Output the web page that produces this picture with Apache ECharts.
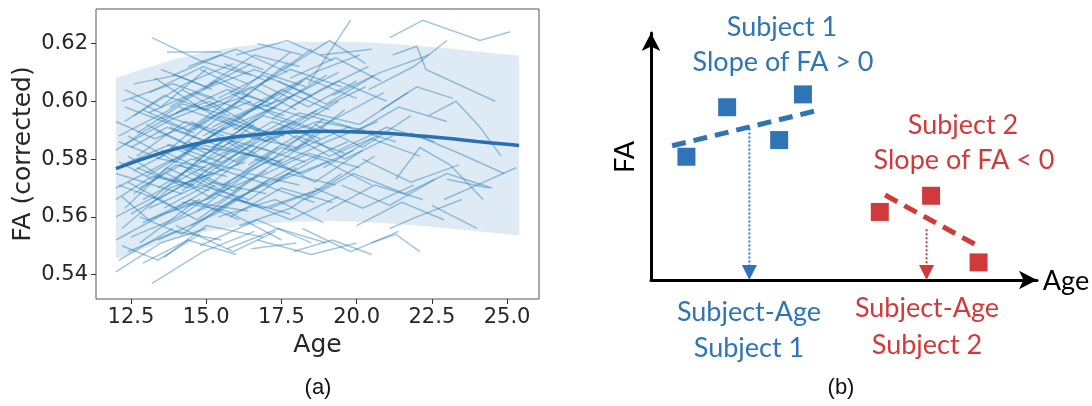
<!DOCTYPE html>
<html>
<head>
<meta charset="utf-8">
<script src="https://cdn.jsdelivr.net/npm/echarts@6/dist/echarts.min.js"></script>
<style>
  html, body { margin: 0; background: #fff; }
  #chart { width: 1092px; height: 406px; }
</style>
</head>
<body>
<div id="chart"></div>
<script>
// ---- panel (a): per-subject trajectories, flat [age, FA, age, FA, ...]
var subjectsA = [
  [12.0,0.541, 13.5,0.551, 15.0,0.556], [12.1,0.545, 13.9,0.556], [12.0,0.566, 13.2,0.574, 14.6,0.571],
  [12.2,0.578, 13.8,0.585, 15.5,0.579], [12.0,0.583, 13.0,0.590, 14.4,0.598], [12.3,0.593, 13.6,0.602, 15.1,0.597],
  [12.1,0.571, 13.4,0.566, 14.9,0.575], [12.0,0.560, 13.3,0.567, 15.0,0.582], [12.4,0.588, 14.0,0.579, 15.6,0.591],
  [12.2,0.600, 13.9,0.606, 15.3,0.601], [12.5,0.553, 14.1,0.560, 15.8,0.572], [12.0,0.575, 14.2,0.568],
  [12.6,0.606, 14.0,0.609, 15.2,0.604], [12.3,0.563, 13.7,0.577, 15.4,0.569], [12.7,0.581, 14.3,0.593, 16.0,0.588],
  [12.1,0.586, 13.5,0.580, 15.0,0.577], [12.8,0.570, 14.5,0.580, 16.2,0.576], [12.4,0.548, 14.0,0.555, 15.5,0.552],
  [12.9,0.597, 14.4,0.590, 16.1,0.603], [12.2,0.567, 13.1,0.559, 14.8,0.566], [12.6,0.576, 14.1,0.584, 15.6,0.583],
  [12.0,0.593, 13.3,0.587, 14.5,0.592], [12.5,0.561, 14.4,0.572, 16.3,0.579], [12.3,0.604, 13.5,0.598, 15.0,0.611],
  [12.8,0.551, 14.6,0.565, 16.4,0.562], [12.1,0.579, 13.2,0.573, 14.7,0.585], [12.7,0.589, 14.2,0.599, 15.8,0.595],
  [12.4,0.572, 14.0,0.563, 15.3,0.571], [12.9,0.566, 14.7,0.576, 16.5,0.586], [12.2,0.556, 13.8,0.570, 15.2,0.575],
  [12.6,0.595, 14.3,0.606, 15.9,0.613], [12.0,0.570, 13.9,0.580], [13.2,0.537, 14.9,0.548, 16.6,0.555],
  [12.9,0.544, 14.4,0.552, 16.0,0.547], [12.5,0.584, 13.7,0.591, 15.0,0.586], [12.3,0.598, 14.6,0.589],
  [12.8,0.560, 14.2,0.554, 15.9,0.566], [12.1,0.588, 13.6,0.596, 15.4,0.607], [12.6,0.568, 14.0,0.578, 15.7,0.574],
  [12.4,0.581, 13.5,0.574, 15.1,0.569], [13.2,0.622, 14.8,0.614, 16.5,0.609], [12.2,0.550, 13.4,0.545, 14.8,0.554],
  [12.9,0.558, 14.5,0.566, 16.1,0.559], [13.1,0.596, 14.6,0.603, 16.2,0.597], [13.7,0.617, 15.5,0.617]
];
var subjectsB = [
  [13.0,0.574, 14.8,0.585, 16.6,0.581], [13.3,0.590, 15.0,0.582, 16.7,0.594], [13.6,0.563, 15.2,0.572, 17.0,0.568],
  [13.1,0.603, 14.9,0.612, 16.4,0.606], [13.8,0.579, 15.5,0.590, 17.3,0.598], [13.4,0.552, 15.3,0.561, 17.1,0.573],
  [14.0,0.596, 15.7,0.604, 17.2,0.599], [13.7,0.585, 15.4,0.577, 17.0,0.589], [14.2,0.569, 15.8,0.583, 17.5,0.579],
  [13.9,0.609, 15.5,0.616, 16.9,0.611], [14.5,0.557, 16.0,0.566, 17.8,0.561], [13.5,0.594, 15.1,0.600, 16.8,0.590],
  [14.3,0.583, 15.9,0.592, 17.6,0.588], [14.8,0.573, 16.3,0.565, 18.0,0.577], [13.2,0.567, 14.7,0.559, 16.2,0.570],
  [14.6,0.599, 16.1,0.590, 17.9,0.602], [14.1,0.578, 15.6,0.571, 17.4,0.584], [14.9,0.588, 16.5,0.597, 18.2,0.607],
  [13.6,0.546, 15.0,0.557, 16.9,0.553], [14.4,0.612, 16.0,0.618, 17.7,0.610], [14.7,0.562, 16.4,0.575, 18.1,0.571],
  [13.8,0.591, 15.3,0.585, 17.0,0.580], [14.0,0.557, 15.9,0.548, 17.3,0.555], [14.5,0.593, 16.2,0.583, 17.8,0.592],
  [13.4,0.580, 15.0,0.594, 16.5,0.600], [14.9,0.604, 16.6,0.611, 18.3,0.605], [14.2,0.565, 15.7,0.562, 17.5,0.552],
  [13.9,0.572, 15.6,0.587, 17.1,0.583], [14.6,0.580, 16.3,0.588, 18.0,0.584], [14.8,0.550, 16.7,0.559, 18.5,0.551],
  [13.3,0.608, 14.9,0.597, 16.4,0.602], [14.3,0.589, 16.1,0.600, 17.6,0.595], [15.0,0.566, 16.8,0.578, 18.4,0.586],
  [14.1,0.598, 15.8,0.592, 17.4,0.603], [13.7,0.575, 15.1,0.567, 16.7,0.574], [14.4,0.586, 16.0,0.579, 17.6,0.591],
  [13.5,0.583, 15.0,0.576, 16.6,0.585], [14.2,0.604, 15.6,0.596, 17.1,0.608], [14.7,0.571, 16.3,0.582, 17.9,0.576]
];
var subjectsC = [
  [15.2,0.584, 16.9,0.595, 18.6,0.590], [15.5,0.571, 17.2,0.580, 18.9,0.594], [15.1,0.606, 16.6,0.616, 18.1,0.612],
  [15.8,0.560, 17.5,0.570, 19.2,0.565], [15.4,0.595, 17.0,0.586, 18.7,0.597], [16.0,0.578, 17.6,0.589, 19.4,0.600],
  [15.7,0.549, 17.4,0.556, 19.0,0.551], [16.2,0.603, 17.8,0.611, 19.5,0.605], [15.3,0.577, 17.1,0.571, 18.8,0.581],
  [16.5,0.587, 18.1,0.596, 19.8,0.591], [15.9,0.566, 17.7,0.575, 19.3,0.571], [16.3,0.592, 17.9,0.583, 19.6,0.597],
  [15.6,0.613, 17.0,0.607, 18.5,0.618], [16.8,0.574, 18.4,0.582, 20.1,0.577], [16.1,0.557, 17.8,0.563, 19.5,0.575],
  [16.6,0.599, 18.3,0.608, 20.0,0.601], [15.2,0.591, 16.8,0.599, 18.4,0.594], [17.0,0.581, 18.6,0.572, 20.2,0.583],
  [16.4,0.569, 18.0,0.578, 19.7,0.586], [17.2,0.594, 18.8,0.604, 20.4,0.612], [16.7,0.552, 18.5,0.547, 20.0,0.551],
  [15.4,0.560, 17.3,0.566, 18.9,0.558], [17.4,0.607, 19.0,0.599, 20.6,0.609], [16.9,0.586, 18.7,0.593, 20.3,0.590],
  [17.1,0.563, 18.9,0.570, 20.6,0.581], [15.8,0.603, 17.3,0.595, 19.0,0.589], [16.2,0.575, 17.5,0.584, 19.1,0.579],
  [17.5,0.590, 19.1,0.581, 20.7,0.588], [16.0,0.616, 17.7,0.621, 19.2,0.614], [17.3,0.572, 19.0,0.579, 20.5,0.571],
  [15.0,0.598, 16.5,0.605, 18.0,0.597], [15.6,0.583, 17.2,0.593, 18.8,0.587], [16.3,0.596, 17.9,0.602, 19.4,0.610],
  [15.3,0.568, 16.9,0.563, 18.6,0.569], [16.6,0.580, 18.2,0.575, 19.9,0.583], [15.9,0.590, 17.4,0.599, 19.0,0.609],
  [16.5,0.549, 18.0,0.551], [16.7,0.620, 18.2,0.616]
];
var subjectsD = [
  [17.8,0.598, 19.4,0.607, 21.0,0.600], [18.0,0.583, 19.7,0.591, 21.3,0.586], [18.3,0.566, 19.9,0.575, 21.6,0.568],
  [17.6,0.611, 19.1,0.621, 20.3,0.613], [18.6,0.592, 20.2,0.584, 21.8,0.595], [18.9,0.577, 20.5,0.587, 22.1,0.581],
  [18.2,0.556, 19.8,0.548, 21.4,0.555], [19.2,0.602, 20.8,0.610, 22.4,0.616], [19.5,0.571, 21.1,0.564, 22.6,0.573],
  [18.4,0.606, 19.8,0.628], [19.9,0.589, 21.4,0.598, 23.0,0.593], [20.2,0.580, 21.8,0.572, 23.4,0.578],
  [19.0,0.562, 20.6,0.571, 22.2,0.566], [20.4,0.604, 21.9,0.612, 23.0,0.621], [20.0,0.557, 21.5,0.565, 22.9,0.559],
  [21.1,0.622, 22.2,0.628, 24.1,0.621, 25.1,0.624], [21.2,0.616, 22.0,0.619, 22.3,0.611, 24.6,0.600],
  [22.4,0.595, 23.3,0.600, 24.1,0.591, 24.8,0.581], [21.3,0.573, 22.1,0.584, 23.1,0.578, 24.2,0.566],
  [21.6,0.568, 23.0,0.575, 24.5,0.570], [22.9,0.566, 24.0,0.571, 25.3,0.577], [21.1,0.556, 22.0,0.560, 23.5,0.566],
  [20.5,0.551, 21.3,0.554, 22.1,0.548], [22.5,0.564, 24.0,0.556], [23.0,0.573, 24.4,0.570],
  [21.8,0.589, 23.4,0.582, 24.9,0.575], [20.8,0.597, 22.0,0.605, 23.2,0.601], [17.9,0.548, 19.2,0.552, 20.5,0.547],
  [17.7,0.585, 19.3,0.594, 20.9,0.603], [18.5,0.596, 20.1,0.592, 21.7,0.603], [18.8,0.616, 20.5,0.618]
];
var subjectsE = [
  [12.3,0.585, 13.9,0.594, 15.6,0.588], [12.7,0.577, 14.4,0.570, 16.0,0.582], [13.0,0.592, 14.6,0.584, 16.3,0.596],
  [13.4,0.570, 15.0,0.580, 16.6,0.592], [13.8,0.598, 15.3,0.607, 16.9,0.600], [14.0,0.583, 15.5,0.595, 17.1,0.589],
  [14.3,0.576, 15.9,0.569, 17.5,0.580], [14.6,0.590, 16.2,0.601, 17.7,0.613], [14.9,0.579, 16.4,0.586, 18.0,0.593],
  [15.1,0.571, 16.7,0.584, 18.3,0.579], [15.4,0.601, 16.9,0.609, 18.5,0.602], [15.7,0.587, 17.3,0.578, 18.9,0.590],
  [16.0,0.593, 17.5,0.604, 19.1,0.597], [16.4,0.578, 18.0,0.588, 19.6,0.582], [16.8,0.606, 18.4,0.598, 20.0,0.607],
  [17.1,0.589, 18.7,0.597, 20.3,0.605], [17.4,0.578, 19.0,0.586, 20.7,0.593], [17.8,0.608, 19.3,0.615, 20.8,0.607],
  [18.1,0.590, 19.6,0.580, 21.2,0.588], [13.1,0.563, 14.8,0.571, 16.4,0.566], [13.6,0.557, 15.4,0.565, 17.0,0.576],
  [15.2,0.562, 16.9,0.571, 18.6,0.565], [16.1,0.566, 17.8,0.559, 19.4,0.567], [12.5,0.601, 13.9,0.594, 15.4,0.600],
  [13.5,0.611, 15.0,0.605, 16.5,0.613], [14.8,0.611, 16.2,0.604, 17.8,0.617], [17.0,0.598, 18.6,0.610, 20.1,0.616],
  [18.6,0.570, 20.2,0.563, 21.9,0.571], [19.4,0.583, 21.0,0.591, 22.6,0.586], [12.0,0.552, 13.6,0.561, 15.3,0.567]
];

// population fit and its band
var fitAge   = [12.0, 12.5, 13, 14, 15, 16, 17, 18, 19, 20, 21, 22, 23, 24, 25, 25.4];
var fitMean  = [0.5767, 0.5786, 0.5804, 0.5836, 0.5860, 0.5877, 0.5888, 0.5894, 0.5896, 0.5894, 0.5889, 0.5881, 0.5872, 0.5861, 0.5851, 0.5847];
var fitUpper = [0.6080, 0.6098, 0.6115, 0.6147, 0.6171, 0.6188, 0.6199, 0.6205, 0.6206, 0.6205, 0.6200, 0.6192, 0.6183, 0.6172, 0.6162, 0.6158];
var fitLower = [0.5454, 0.5474, 0.5493, 0.5525, 0.5549, 0.5566, 0.5577, 0.5583, 0.5586, 0.5583, 0.5578, 0.5570, 0.5561, 0.5550, 0.5540, 0.5536];

var ageTicks = [12.5, 15.0, 17.5, 20.0, 22.5, 25.0];
var faTicks  = [0.54, 0.56, 0.58, 0.60, 0.62];

// ---- panel (b): schematic
var subj1Points = [[0.94, 5.18], [2.02, 7.26], [3.40, 5.88], [4.03, 7.80]];
var subj2Points = [[6.07, 2.86], [7.43, 3.54], [8.69, 0.74]];
var subj1Fit = [[0.56, 5.64], [4.45, 7.14]];
var subj2Fit = [[6.21, 3.57], [8.71, 1.40]];
var subj1Drop = [[2.61, 6.37], [2.61, 0.62]];
var subj2Drop = [[7.31, 2.13], [7.31, 0.62]];
var dropHeads = [[2.61, 0.32], [7.31, 0.32]];

var BLUE = '#2f75b5', RED = '#d03a3a';

function toCoords(list) {
  return list.map(function (s) {
    var c = [];
    for (var i = 0; i < s.length; i += 2) c.push([s[i], s[i + 1]]);
    return { coords: c };
  });
}
var spaghetti = toCoords(subjectsA.concat(subjectsB, subjectsC, subjectsD, subjectsE));

var chart = echarts.init(document.getElementById('chart'));
var tickFont = { fontFamily: 'DejaVu Sans', fontSize: 21, color: '#262626' };
var calib = '27px Lato';

chart.setOption({
  backgroundColor: '#fff',
  animation: false,
  grid: [
    { left: 96, top: 9, width: 443, height: 290, show: true, borderColor: '#555', borderWidth: 1, backgroundColor: 'transparent' },
    { left: 651, top: 33, width: 386, height: 247 }
  ],
  xAxis: [
    {
      gridIndex: 0, type: 'value', min: 11.34, max: 26.06,
      name: 'Age', nameLocation: 'middle', nameGap: 32,
      nameTextStyle: { fontFamily: 'DejaVu Sans', fontSize: 25, color: '#262626' },
      axisLine: { show: false }, splitLine: { show: false },
      axisTick: { show: true, length: 5, customValues: ageTicks, lineStyle: { color: '#333' } },
      axisLabel: Object.assign({ margin: 8, customValues: ageTicks, formatter: function (v) { return v.toFixed(1); } }, tickFont)
    },
    {
      gridIndex: 1, type: 'value', min: 0, max: 10.24,
      axisLine: { show: true, symbol: ['none', 'arrow'], symbolSize: [14, 18], lineStyle: { color: '#000', width: 3 } },
      axisTick: { show: false }, axisLabel: { show: false }, splitLine: { show: false }
    }
  ],
  yAxis: [
    {
      gridIndex: 0, type: 'value', min: 0.5316, max: 0.6319,
      name: 'FA (corrected)', nameLocation: 'middle', nameGap: 60,
      nameTextStyle: { fontFamily: 'DejaVu Sans', fontSize: 25, color: '#262626' },
      axisLine: { show: false }, splitLine: { show: false },
      axisTick: { show: true, length: 5, customValues: faTicks, lineStyle: { color: '#333' } },
      axisLabel: Object.assign({ margin: 8, customValues: faTicks, formatter: function (v) { return v.toFixed(2); } }, tickFont)
    },
    {
      gridIndex: 1, type: 'value', min: 0, max: 10.38,
      axisLine: { show: true, symbol: ['none', 'arrow'], symbolSize: [14, 18], lineStyle: { color: '#000', width: 3 } },
      axisTick: { show: false }, axisLabel: { show: false }, splitLine: { show: false }
    }
  ],
  series: [
    {
      type: 'custom', xAxisIndex: 0, yAxisIndex: 0, z: 1, silent: true,
      data: [[fitAge[0], fitMean[0]]],
      renderItem: function (params, api) {
        var pts = [];
        for (var i = 0; i < fitAge.length; i++) pts.push(api.coord([fitAge[i], fitUpper[i]]));
        for (var j = fitAge.length - 1; j >= 0; j--) pts.push(api.coord([fitAge[j], fitLower[j]]));
        return { type: 'polygon', shape: { points: pts }, style: { fill: 'rgba(31,119,180,0.15)' } };
      }
    },
    {
      type: 'lines', coordinateSystem: 'cartesian2d', xAxisIndex: 0, yAxisIndex: 0,
      polyline: true, z: 2, silent: true,
      lineStyle: { color: 'rgba(31,119,180,0.42)', width: 1.5, opacity: 1 },
      data: spaghetti
    },
    {
      type: 'line', xAxisIndex: 0, yAxisIndex: 0, z: 3, smooth: true, symbol: 'none',
      lineStyle: { color: '#2a6fb0', width: 3.5 },
      data: fitAge.map(function (a, i) { return [a, fitMean[i]]; })
    },
    // panel (b)
    {
      type: 'line', xAxisIndex: 1, yAxisIndex: 1, symbol: 'none',
      lineStyle: { color: BLUE, width: 5, type: [14, 8] }, data: subj1Fit
    },
    {
      type: 'line', xAxisIndex: 1, yAxisIndex: 1, symbol: 'none',
      lineStyle: { color: RED, width: 5, type: [14, 8] }, data: subj2Fit
    },
    {
      type: 'line', xAxisIndex: 1, yAxisIndex: 1, symbol: 'none',
      lineStyle: { color: BLUE, width: 2, type: [2, 2] }, data: subj1Drop
    },
    {
      type: 'line', xAxisIndex: 1, yAxisIndex: 1, symbol: 'none',
      lineStyle: { color: RED, width: 2, type: [2, 2] }, data: subj2Drop
    },
    {
      type: 'scatter', xAxisIndex: 1, yAxisIndex: 1, symbol: 'triangle', symbolRotate: 180, symbolSize: [15, 15],
      data: [
        { value: dropHeads[0], itemStyle: { color: BLUE, opacity: 1 } },
        { value: dropHeads[1], itemStyle: { color: RED, opacity: 1 } }
      ]
    },
    {
      type: 'scatter', xAxisIndex: 1, yAxisIndex: 1, symbol: 'rect', symbolSize: 18,
      itemStyle: { color: BLUE, opacity: 1 }, data: subj1Points
    },
    {
      type: 'scatter', xAxisIndex: 1, yAxisIndex: 1, symbol: 'rect', symbolSize: 18,
      itemStyle: { color: RED, opacity: 1 }, data: subj2Points
    }
  ],
  graphic: [
    { type: 'text', x: 318, y: 388, style: { text: '(a)', font: '22px "Liberation Sans"', fill: '#111', align: 'center', verticalAlign: 'middle' } },
    { type: 'text', x: 841, y: 388, style: { text: '(b)', font: '22px "Liberation Sans"', fill: '#111', align: 'center', verticalAlign: 'middle' } },
    { type: 'text', x: 782, y: 27, style: { text: 'Subject 1', font: calib, fill: BLUE, align: 'center', verticalAlign: 'middle' } },
    { type: 'text', x: 783, y: 62, style: { text: 'Slope of FA > 0', font: calib, fill: BLUE, align: 'center', verticalAlign: 'middle' } },
    { type: 'text', x: 963, y: 125, style: { text: 'Subject 2', font: calib, fill: RED, align: 'center', verticalAlign: 'middle' } },
    { type: 'text', x: 964, y: 160, style: { text: 'Slope of FA < 0', font: calib, fill: RED, align: 'center', verticalAlign: 'middle' } },
    { type: 'text', x: 749, y: 312, style: { text: 'Subject-Age', font: calib, fill: BLUE, align: 'center', verticalAlign: 'middle' } },
    { type: 'text', x: 749, y: 348, style: { text: 'Subject 1', font: calib, fill: BLUE, align: 'center', verticalAlign: 'middle' } },
    { type: 'text', x: 927, y: 308, style: { text: 'Subject-Age', font: calib, fill: RED, align: 'center', verticalAlign: 'middle' } },
    { type: 'text', x: 927, y: 345, style: { text: 'Subject 2', font: calib, fill: RED, align: 'center', verticalAlign: 'middle' } },
    { type: 'text', x: 1066, y: 281, style: { text: 'Age', font: calib, fill: '#000', align: 'center', verticalAlign: 'middle' } },
    { type: 'text', x: 625, y: 157, rotation: Math.PI / 2, style: { text: 'FA', font: calib, fill: '#000', align: 'center', verticalAlign: 'middle' } }
  ]
});
</script>
</body>
</html>
